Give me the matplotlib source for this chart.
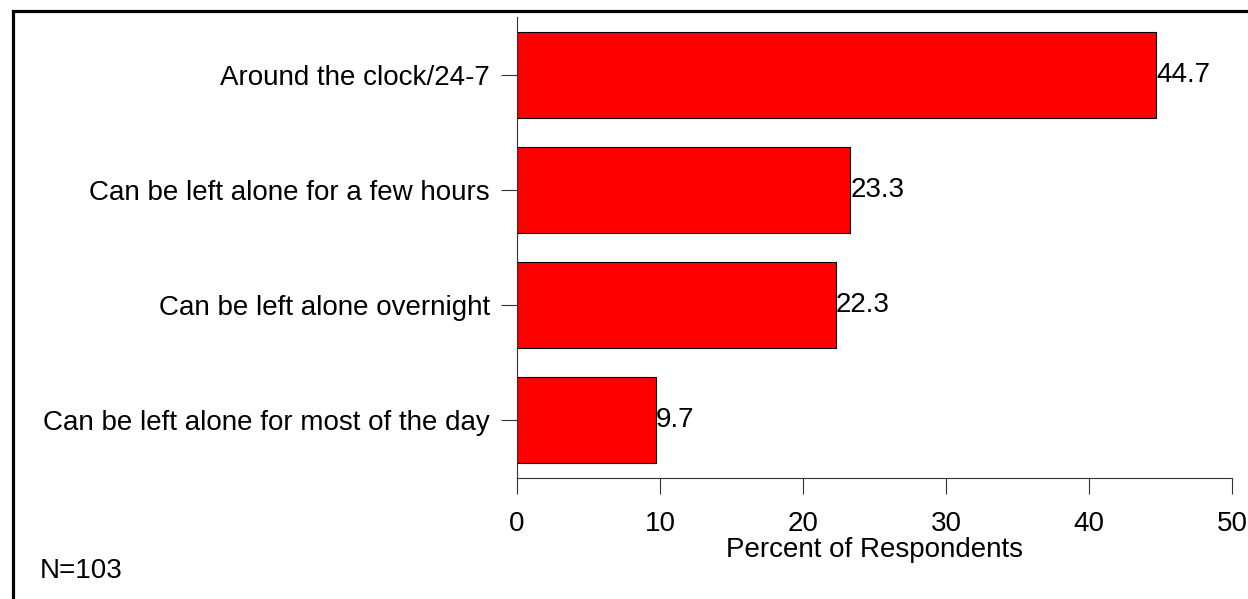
import matplotlib
matplotlib.use('Agg')
import matplotlib.pyplot as plt
from matplotlib.patches import Rectangle

plt.rcParams['font.family'] = ['Liberation Sans', 'DejaVu Sans']

# categories from bottom to top
categories = ['Can be left alone for most of the day',
              'Can be left alone overnight',
              'Can be left alone for a few hours',
              'Around the clock/24-7']
percents = [9.7, 22.3, 23.3, 44.7]
xticks = [0, 10, 20, 30, 40, 50]
note = 'N=103'

W, H = 1248, 599
fig = plt.figure(figsize=(W / 100, H / 100), dpi=100)

# outer frame, cut off at the right and bottom edges
fig.patches.append(Rectangle((12.5 / W, -0.05), 1.1, (H - 10.5) / H + 0.05,
                             transform=fig.transFigure, fill=False,
                             edgecolor='black', linewidth=2.3, clip_on=False))

ax = fig.add_axes([517 / W, (H - 478) / H, (1232 - 517) / W, (478 - 17) / H])
pos = list(range(len(categories)))
ax.barh(pos, percents, height=0.75, color='#ff0000', edgecolor='black', linewidth=0.8)
for p, v in zip(pos, percents):
    ax.text(v, p, f'{v:.1f}', ha='left', va='center', fontsize=20)

ax.set_xlim(0, 50)
ax.set_ylim(-0.504, 3.504)
ax.set_xticks(xticks)
ax.set_yticks(pos)
ax.set_yticklabels(categories)
ax.tick_params(axis='both', labelsize=20, length=11.5, width=0.8, color='#333333')
ax.tick_params(axis='x', pad=12)
ax.tick_params(axis='y', pad=8)
ax.set_xlabel('Percent of Respondents', fontsize=20, labelpad=0)
for s in ['top', 'right']:
    ax.spines[s].set_visible(False)
for s in ['left', 'bottom']:
    ax.spines[s].set_color('#333333')
    ax.spines[s].set_linewidth(0.8)

fig.text(40 / W, (H - 571) / H, note, fontsize=20, va='center', ha='left')

fig.savefig('out.png', dpi=100)
